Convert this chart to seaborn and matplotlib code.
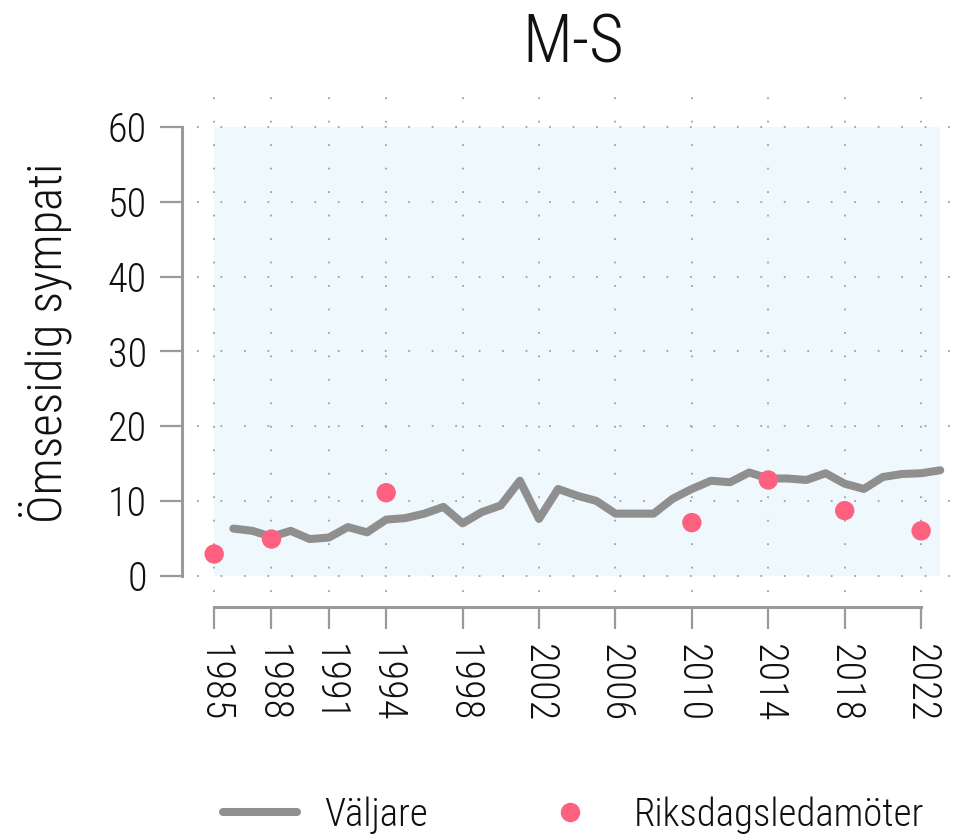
import matplotlib
matplotlib.use("Agg")
import matplotlib.pyplot as plt
from matplotlib.patches import Rectangle
from matplotlib.lines import Line2D
import seaborn as sns
import pandas as pd

# Data
voter_years = list(range(1986, 2024))
voter_values = [6.3, 6.0, 5.2, 6.0, 4.9, 5.1, 6.5, 5.8, 7.5, 7.7,
                8.3, 9.2, 7.0, 8.5, 9.4, 12.7, 7.6, 11.6, 10.7, 10.0,
                8.3, 8.3, 8.3, 10.3, 11.6, 12.7, 12.5, 13.8, 13.0, 13.0,
                12.8, 13.7, 12.3, 11.6, 13.2, 13.6, 13.7, 14.1]
mp_years = [1985, 1988, 1994, 2010, 2014, 2018, 2022]
mp_values = [2.9, 4.9, 11.1, 7.1, 12.8, 8.7, 6.0]
x_ticks = [1985, 1988, 1991, 1994, 1998, 2002, 2006, 2010, 2014, 2018, 2022]
y_ticks = [0, 10, 20, 30, 40, 50, 60]

line_color = "#8f8f8f"
dot_color = "#fd617f"
axis_color = "#9a9a9a"

sns.set_style("white")
plt.rcParams["font.family"] = ["Roboto Condensed", "Open Sans", "DejaVu Sans"]
plt.rcParams["font.stretch"] = "condensed"
plt.rcParams["font.weight"] = "light"
plt.rcParams["axes.labelweight"] = "light"
plt.rcParams["axes.titleweight"] = "light"
plt.rcParams["text.color"] = "#111111"
plt.rcParams["axes.labelcolor"] = "#111111"
plt.rcParams["xtick.color"] = "#111111"
plt.rcParams["ytick.color"] = "#111111"

df_v = pd.DataFrame({"year": voter_years, "value": voter_values})
df_r = pd.DataFrame({"year": mp_years, "value": mp_values})

fig = plt.figure(figsize=(9.59, 8.34), dpi=100)
ax = fig.add_axes([0.2054, 0.290, 0.785, 0.598])

# light blue panel behind the data
ax.add_patch(Rectangle((1985, 0), 38, 60, facecolor="#eff9fd", edgecolor="none", zorder=0.2))

sns.lineplot(data=df_v, x="year", y="value", ax=ax, color=line_color, linewidth=5.8, zorder=3)
sns.scatterplot(data=df_r, x="year", y="value", ax=ax, color=dot_color, s=195,
                edgecolor="none", zorder=4, clip_on=False)

ax.set_xlim(1984.1, 2023.5)
ax.set_ylim(-2.2, 64.5)
ax.set_xticks(x_ticks)
ax.set_yticks(y_ticks)

ax.grid(True, color="#a0a0a0", linestyle=(0, (1, 12)), linewidth=1.3)
ax.set_axisbelow(True)

for side in ["top", "right"]:
    ax.spines[side].set_visible(False)
for side in ["left", "bottom"]:
    ax.spines[side].set_color(axis_color)
    ax.spines[side].set_linewidth(2.2)
    ax.spines[side].set_position(("outward", 11))
ax.spines["left"].set_bounds(0, 60)
ax.spines["bottom"].set_bounds(1985, 2022)

ax.tick_params(axis="both", which="major", length=16, width=1.6, color=axis_color,
               labelsize=29, direction="out", left=True, bottom=True)
ax.tick_params(axis="x", labelrotation=-90, pad=10)
ax.tick_params(axis="y", pad=9)

ax.set_xlabel("")
ax.set_ylabel("Ömsesidig sympati", fontsize=35, labelpad=26)
ax.set_title("M-S", fontsize=48, pad=22)

handles = [
    Line2D([0], [0], color=line_color, linewidth=5.8),
    Line2D([0], [0], color=dot_color, marker="o", linestyle="none", markersize=13),
]
fig.legend(handles, ["Väljare", "Riksdagsledamöter"], loc="lower center", ncol=2,
           bbox_to_anchor=(0.598, -0.042), frameon=False, fontsize=28,
           handlelength=1.9, handletextpad=0.7, columnspacing=2.7)

fig.savefig("out.png", dpi=100)
